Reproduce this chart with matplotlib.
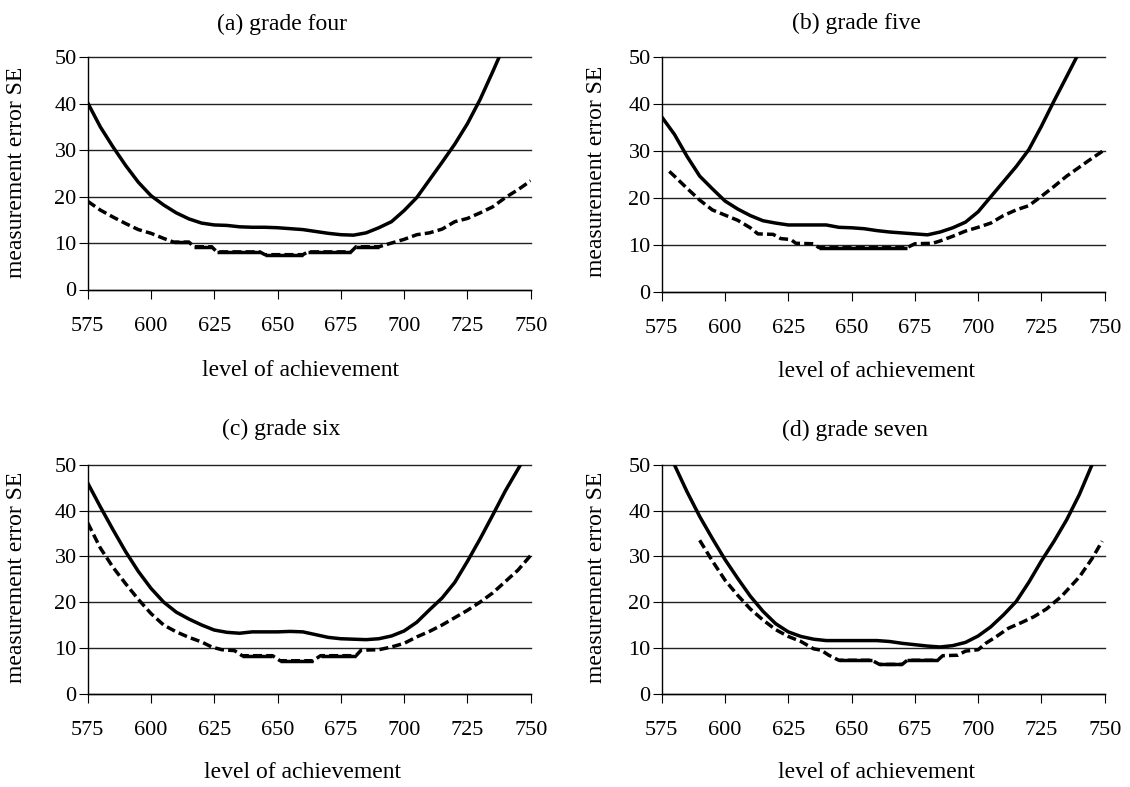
import numpy as np
import matplotlib.pyplot as plt

plt.rcParams['font.family'] = ['Liberation Serif', 'DejaVu Serif']

# (a) grade four
a_x1 = [575, 580, 585, 590, 595, 600, 605, 610, 615, 620, 625, 630, 635, 640, 645, 650, 655,
        660, 665, 670, 675, 680, 685, 690, 695, 700, 705, 710, 715, 720, 725, 730, 735, 737.5]
a_se1 = [40.2, 35, 30.7, 26.7, 23.1, 20.2, 18.2, 16.5, 15.2, 14.3, 13.9, 13.8, 13.5, 13.4, 13.4, 13.3, 13.1,
         12.9, 12.5, 12.1, 11.8, 11.7, 12.2, 13.3, 14.6, 17, 19.8, 23.6, 27.4, 31.3, 35.7, 40.9, 46.9, 50]
a_x2 = [575, 580, 585, 590, 595, 600, 605, 609, 615, 617, 624, 626, 643, 645, 660, 662, 679, 681, 690,
        695, 700, 705, 710, 715, 720, 725, 730, 735, 740, 745, 750]
a_se2 = [19, 17.1, 15.6, 14.2, 12.9, 12.1, 11, 10.2, 10.2, 9.2, 9.2, 8.1, 8.1, 7.5, 7.5, 8.1, 8.1, 9.2, 9.2,
         10, 10.8, 11.8, 12.2, 13, 14.6, 15.3, 16.5, 17.8, 19.8, 21.5, 23.4]

# (b) grade five
b_x1 = [575, 580, 585, 590, 595, 600, 605, 610, 615, 620, 625, 630, 635, 640, 645, 650, 655,
        660, 665, 670, 675, 680, 685, 690, 695, 700, 705, 710, 715, 720, 725, 730, 735, 739]
b_se1 = [37.2, 33.5, 28.8, 24.6, 21.9, 19.3, 17.6, 16.2, 15.1, 14.6, 14.2, 14.2, 14.2, 14.2, 13.7, 13.6, 13.4,
         13, 12.7, 12.5, 12.3, 12.1, 12.7, 13.6, 14.8, 17, 20.2, 23.4, 26.6, 30.2, 35.2, 40.6, 45.8, 50]
b_x2 = [578, 580, 585, 590, 595, 600, 605, 610, 613, 619, 622, 626, 628, 635, 637, 672, 675, 682, 685,
        690, 695, 700, 705, 710, 715, 720, 725, 730, 735, 740, 745, 750]
b_se2 = [25.6, 24.6, 22, 19.5, 17.4, 16.3, 15.2, 13.6, 12.3, 12.2, 11.3, 11.1, 10.3, 10.2, 9.4, 9.4, 10.2, 10.3, 10.8,
         11.8, 12.9, 13.7, 14.6, 16.2, 17.4, 18.3, 20.3, 22.4, 24.6, 26.5, 28.4, 30.2]

# (c) grade six
c_x1 = [575, 580, 585, 590, 595, 600, 605, 610, 615, 620, 625, 630, 635, 640, 645, 650, 655,
        660, 665, 670, 675, 680, 685, 690, 695, 700, 705, 710, 715, 720, 725, 730, 735, 740, 746]
c_se1 = [46, 40.8, 35.8, 31, 26.7, 23, 20, 17.8, 16.3, 15, 13.9, 13.4, 13.2, 13.5, 13.5, 13.5, 13.6,
         13.5, 12.9, 12.3, 12, 11.9, 11.8, 12, 12.6, 13.7, 15.6, 18.3, 20.9, 24.3, 28.9, 33.8, 39, 44.3, 50]
c_x2 = [575, 580, 585, 590, 595, 600, 605, 610, 615, 620, 624, 628, 633, 636, 648, 651, 664, 667, 681,
        683, 690, 695, 700, 705, 710, 715, 720, 725, 730, 735, 740, 745, 750]
c_se2 = [37.3, 31.8, 27.6, 24, 20.6, 17.5, 15, 13.5, 12.3, 11.3, 10.2, 9.6, 9.4, 8.3, 8.3, 7.2, 7.2, 8.3, 8.3,
         9.5, 9.6, 10.2, 11, 12.4, 13.6, 15, 16.6, 18.2, 20, 22, 24.5, 27, 30.2]

# (d) grade seven
d_x1 = [580, 585, 590, 595, 600, 605, 610, 615, 620, 625, 630, 635, 640, 645, 650, 655,
        660, 665, 670, 675, 680, 685, 690, 695, 700, 705, 710, 715, 720, 725, 730, 735, 740, 745]
d_se1 = [50, 44.1, 38.7, 33.9, 29.3, 25.2, 21.3, 18, 15.3, 13.5, 12.5, 11.9, 11.6, 11.6, 11.6, 11.6,
         11.6, 11.4, 11, 10.7, 10.4, 10.2, 10.5, 11.2, 12.6, 14.6, 17.2, 20.1, 24.3, 29, 33.3, 38, 43.5, 50]
d_x2 = [590, 595, 600, 605, 610, 615, 620, 625, 630, 635, 638, 641, 645, 658, 661, 670, 672, 684, 686,
        692, 695, 700, 703, 707, 712, 717, 722, 727, 733, 740, 745, 749]
d_se2 = [33.5, 29, 24.8, 21.5, 18.5, 16.1, 14, 12.5, 11.4, 9.8, 9.5, 8.4, 7.3, 7.3, 6.4, 6.4, 7.3, 7.3, 8.3,
         8.4, 9.3, 9.6, 11, 12.4, 14.3, 15.5, 16.8, 18.5, 21.3, 25.5, 29.5, 33.3]

titles = ['(a) grade four', '(b) grade five', '(c) grade six', '(d) grade seven']
xticks = [575, 600, 625, 650, 675, 700, 725, 750]
yticks = [0, 10, 20, 30, 40, 50]

panels = [(a_x1, a_se1, a_x2, a_se2), (b_x1, b_se1, b_x2, b_se2),
          (c_x1, c_se1, c_x2, c_se2), (d_x1, d_se1, d_x2, d_se2)]

W, H = 1130, 787
fig = plt.figure(figsize=(W / 100, H / 100), dpi=100)

# axes boxes in pixels: left, top, right, bottom
boxes = [(87.7, 57.3, 530.7, 289.5), (661.7, 56.7, 1104.7, 291.7),
         (87.7, 464.7, 530.7, 693.7), (661.7, 464.7, 1104.7, 693.7)]
title_pos = [(282, 24), (856, 23), (281, 429), (855, 430)]
xlabel_pos = [(301, 370), (876, 372), (303, 773), (876, 773)]
ylabel_pos = [(17, 172), (596, 171), (17, 577), (596, 577)]

TICK_FS = 16
LABEL_FS = 17

for i, (x1, y1, x2, y2) in enumerate(panels):
    l, t, r, b = boxes[i]
    ax = fig.add_axes([l / W, 1 - b / H, (r - l) / W, (b - t) / H])
    ax.set_xlim(575, 750)
    ax.set_ylim(0, 50)
    ax.set_xticks(xticks)
    ax.set_yticks(yticks)
    ax.tick_params(direction='out', length=6.5, width=0.8, labelsize=TICK_FS, colors='black')
    ax.tick_params(axis='x', pad=13)
    ax.tick_params(axis='y', pad=1.5)
    for side in ['top', 'right']:
        ax.spines[side].set_visible(False)
    for side in ['left', 'bottom']:
        ax.spines[side].set_linewidth(1.0)
    ax.yaxis.grid(True, color='#222222', linewidth=1.0)
    ax.set_axisbelow(True)
    for gl in ax.get_ygridlines():
        gl.set_clip_on(False)

    ax.plot(x1, y1, color='black', linewidth=2.5, solid_joinstyle='round')
    ax.plot(x2, y2, color='black', linewidth=2.5, linestyle=(0, (2.6, 1.2)),
            dash_capstyle='butt')
    # level stretches of the dashed series read as continuous
    for j in range(len(x2) - 1):
        if y2[j] == y2[j + 1]:
            ax.plot(x2[j:j + 2], y2[j:j + 2], color='black', linewidth=2.5,
                    solid_capstyle='butt')

    tx, ty = title_pos[i]
    fig.text(tx / W, 1 - ty / H, titles[i], ha='center', va='center', fontsize=LABEL_FS)
    lx, ly = xlabel_pos[i]
    fig.text(lx / W, 1 - ly / H, 'level of achievement', ha='center', va='center',
             fontsize=LABEL_FS)
    yx, yy = ylabel_pos[i]
    fig.text(yx / W, 1 - yy / H, 'measurement error SE', ha='center', va='center',
             rotation=90, fontsize=LABEL_FS)

fig.savefig('out.png', dpi=100)
